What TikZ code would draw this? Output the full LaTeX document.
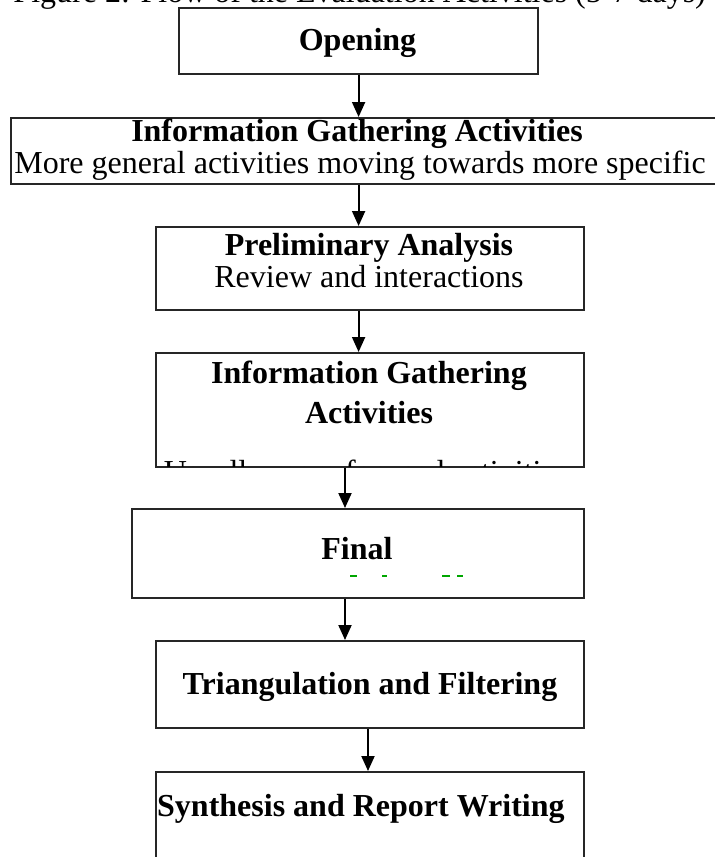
\documentclass[tikz,border=0pt]{standalone}
\usepackage{fontspec}
\setmainfont{Liberation Serif}
\usetikzlibrary{arrows.meta}
\tikzset{
  flowbox/.style={draw=black!85, line width=2.2pt, rectangle, inner sep=0pt, anchor=north west},
  boxtext/.style={anchor=base, inner sep=0pt, font=\fontsize{32}{38}\selectfont},
  boldtext/.style={boxtext, font=\fontsize{32}{38}\selectfont\bfseries},
  flowarrow/.style={line width=2pt, -{Triangle[width=13pt,length=15pt]}},
  squiggle/.style={draw=green!65!black, line width=1.2pt}
}
\begin{document}
\begin{tikzpicture}[x=1pt,y=-1pt]
\useasboundingbox (0,0) rectangle (715,857);
\clip (0,0) rectangle (715,857);

% caption line, mostly above the page edge
\node[boxtext, anchor=base east] (caption) at (706,2)
  {Figure 2: Flow of the Evaluation Activities (5-7 days)};

% boxes
\node[flowbox, minimum width=359pt, minimum height=66pt] (b1) at (178,7) {};
\node[flowbox, minimum width=730pt, minimum height=66pt] (b2) at (10,117) {};
\node[flowbox, minimum width=428pt, minimum height=83pt] (b3) at (155,226) {};
\node[flowbox, minimum width=428pt, minimum height=114pt] (b4) at (155,352) {};
\node[flowbox, minimum width=452pt, minimum height=89pt] (b5) at (131,508) {};
\node[flowbox, minimum width=428pt, minimum height=87pt] (b6) at (155,640) {};
\node[flowbox, minimum width=428pt, minimum height=120pt] (b7) at (155,771) {};

% box texts
\node[boldtext] (t2a) at (357,141) {Information Gathering Activities};
\node[boxtext] (t2b) at (360,173) {More general activities moving towards more specific};
\node[boldtext] (t1) at (357.5,50) {Opening};
\node[boldtext] (t3a) at (369,255) {Preliminary Analysis};
\node[boxtext] (t3b) at (369,287) {Review and interactions};
\node[boldtext] (t4a) at (369,383) {Information Gathering};
\node[boldtext] (t4b) at (369,423) {Activities};
\begin{scope}
  \clip (155,352) rectangle (583,466);
  \node[boxtext] (t4c) at (366,482) {Usually more focused activities};
\end{scope}
\node[boldtext] (t5) at (357,559) {Final};
\node[boldtext] (t6) at (370,694) {Triangulation and Filtering};
\node[boldtext, anchor=base west] (t7) at (157,816) {Synthesis and Report Writing};

% green marks under the last word line of the final box
\draw[squiggle] (350,576) -- (357,576);
\draw[squiggle] (382,576) -- (387,576);
\draw[squiggle] (442,576) -- (450,576);
\draw[squiggle] (457,576) -- (463,576);

% connectors
\draw[flowarrow] (b1.south) -- (b1.south |- b2.north);
\draw[flowarrow] (b2.south -| b1.south) -- (b3.north -| b1.south);
\draw[flowarrow] (b3.south -| b1.south) -- (b4.north -| b1.south);
\draw[flowarrow] (b4.south -| 345,0) -- (b5.north -| 345,0);
\draw[flowarrow] (b5.south -| 345,0) -- (b6.north -| 345,0);
\draw[flowarrow] (b6.south -| 368,0) -- (b7.north -| 368,0);
\end{tikzpicture}
\end{document}
